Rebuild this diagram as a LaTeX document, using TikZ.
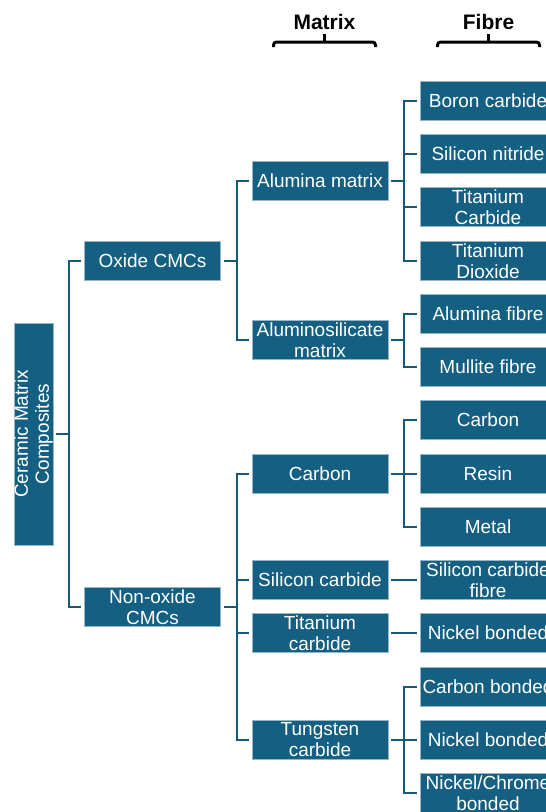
\documentclass[tikz,border=0pt]{standalone}
\usepackage{fontspec}
\setmainfont{Liberation Sans}
\definecolor{boxblue}{HTML}{156082}
\definecolor{linkblue}{HTML}{1A5877}
\tikzset{
  x=1pt, y=-1pt,
  cell/.style={fill=boxblue, draw=white!55!boxblue, line width=0.6pt,
    text=white, inner sep=0pt, minimum width=136, minimum height=39,
    align=center, font=\fontsize{19}{21}\selectfont},
  conn/.style={draw=linkblue, line width=2.2pt},
  head/.style={font=\bfseries\fontsize{21}{24}\selectfont, text=black},
  brace/.style={draw=black, line width=3pt, rounded corners=3pt}
}
\begin{document}
\begin{tikzpicture}
\clip (0,0) rectangle (546,812);
\fill[white] (0,0) rectangle (546,812);

% column headers with their brackets
\node[head] (hm) at (324.5,22) {Matrix};
\node[head] (hf) at (488.5,22) {Fibre};
\foreach \h in {hm,hf}{
  \draw[brace] ([xshift=-51,yshift=-25]\h.center) |- ([xshift=51,yshift=-20]\h.center) -- ([xshift=51,yshift=-25]\h.center);
  \draw[black, line width=3pt] ([yshift=-20]\h.center) -- ([yshift=-12]\h.center);
}

% root
\node[cell, minimum width=39, minimum height=222] (root) at (33.5,434) {};
\node[rotate=90, text=white, align=center, font=\fontsize{19}{21}\selectfont] (rootlabel) at (root.center) {Ceramic Matrix\\Composites};

% first level
\node[cell] (oxide) at (152.5,261) {Oxide CMCs};
\node[cell] (nonox) at (152.5,607) {Non-oxide\\CMCs};

% matrix level
\node[cell] (alum)  at (320,181) {Alumina matrix};
\node[cell] (alsil) at (320,340) {Aluminosilicate\\matrix};
\node[cell] (carb)  at (320,474) {Carbon};
\node[cell] (sic)   at (320,580) {Silicon carbide};
\node[cell] (tic)   at (320,633) {Titanium\\carbide};
\node[cell] (wc)    at (320,740) {Tungsten\\carbide};

% fibre level
\node[cell] (f1)  at (488,101) {Boron carbide};
\node[cell] (f2)  at (488,154) {Silicon nitride};
\node[cell] (f3)  at (488,207) {Titanium\\Carbide};
\node[cell] (f4)  at (488,261) {Titanium\\Dioxide};
\node[cell] (f5)  at (488,314) {Alumina fibre};
\node[cell] (f6)  at (488,367) {Mullite fibre};
\node[cell] (f7)  at (488,420) {Carbon};
\node[cell] (f8)  at (488,474) {Resin};
\node[cell] (f9)  at (488,527) {Metal};
\node[cell] (f10) at (488,580) {Silicon carbide\\fibre};
\node[cell] (f11) at (488,633) {Nickel bonded};
\node[cell] (f12) at (488,687) {Carbon bonded};
\node[cell] (f13) at (488,740) {Nickel bonded};
\node[cell] (f14) at (488,793) {Nickel/Chrome\\bonded};

% elbow connectors: stub from parent, bus, stub into each child
\foreach \p/\kids in {root/{oxide,nonox}, oxide/{alum,alsil}, nonox/{carb,sic,tic,wc},
                      alum/{f1,f2,f3,f4}, alsil/{f5,f6}, carb/{f7,f8,f9},
                      sic/{f10}, tic/{f11}, wc/{f12,f13,f14}}{
  \draw[conn] ([xshift=3]\p.east) -- ([xshift=16]\p.east);
  \foreach \c in \kids{
    \draw[conn] ([xshift=16]\p.east) |- ([xshift=-3]\c.west);
  }
}
\end{tikzpicture}
\end{document}
